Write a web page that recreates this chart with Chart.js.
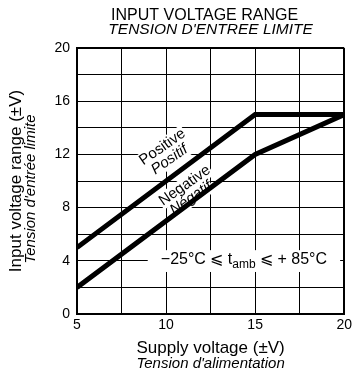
<!DOCTYPE html>
<html>
<head>
<meta charset="utf-8">
<script src="https://cdn.jsdelivr.net/npm/chart.js@4"></script>
<style>
  html, body { margin: 0; padding: 0; background: #fff; }
</style>
</head>
<body>
<canvas id="rangeChart" width="355" height="370"></canvas>
<script>
// input voltage range vs supply voltage

const FONT = '"Liberation Sans", Arial, sans-serif';

const posSupply = [5, 15, 20];
const posRange = [5, 15, 15];
const negSupply = [5, 15, 20];
const negRange = [2, 12, 15];

const titleLines = ["INPUT VOLTAGE RANGE", "TENSION D'ENTREE LIMITE"];
const xTitle = ["Supply voltage (\u00b1V)", "Tension d'alimentation"];
const yTitle = ["Input voltage range (\u00b1V)", "Tension d'entr\u00e9e limite"];

// labels written along the two curves
const noteText = ["Positive", "Positif", "Negative", "N\u00e9gatif"];
const noteX = [9.8, 10.2, 11.05, 11.4];
const noteY = [12.55, 11.6, 9.65, 8.7];
const noteItalic = [false, true, false, true];
const NOTE_ANGLE = -35 * Math.PI / 180;

function points(xs, ys) {
    return xs.map((v, i) => ({ x: v, y: ys[i] }));
}

function eachNote(chart, fn) {
    const { ctx, scales: { x, y } } = chart;
    noteText.forEach((s, i) => {
        ctx.save();
        ctx.translate(x.getPixelForValue(noteX[i]), y.getPixelForValue(noteY[i]));
        ctx.rotate(NOTE_ANGLE);
        ctx.font = (noteItalic[i] ? 'italic ' : '') + '15px ' + FONT;
        fn(ctx, s);
        ctx.restore();
    });
}

const textLayer = {
    id: 'textLayer',
    // white patches under the curve names hide the grid, lines go on top
    beforeDatasetsDraw(chart) {
        chart.ctx.save();
        chart.ctx.fillStyle = '#fff';
        eachNote(chart, (ctx, s) => {
            const w = ctx.measureText(s).width;
            ctx.fillRect(-w / 2 - 1, -8, w + 2, 16);
        });
        chart.ctx.restore();
    },
    afterDraw(chart) {
        const { ctx, chartArea: a, scales: { x, y } } = chart;
        const cx = (a.left + a.right) / 2;
        const cy = (a.top + a.bottom) / 2;
        ctx.save();
        ctx.fillStyle = '#000';
        ctx.textAlign = 'center';
        ctx.textBaseline = 'alphabetic';

        ctx.font = '16px ' + FONT;
        ctx.fillText(titleLines[0], cx - 6, 20);
        ctx.font = 'italic 15.5px ' + FONT;
        ctx.fillText(titleLines[1], cx, 34);

        ctx.font = '17px ' + FONT;
        ctx.fillText(xTitle[0], cx, 353);
        ctx.font = 'italic 15px ' + FONT;
        ctx.fillText(xTitle[1], cx, 368);

        ctx.save();
        ctx.translate(21, cy);
        ctx.rotate(-Math.PI / 2);
        ctx.font = '17px ' + FONT;
        ctx.fillText(yTitle[0], 0, 0);
        ctx.font = 'italic 15px ' + FONT;
        ctx.fillText(yTitle[1], -8, 14);
        ctx.restore();

        // curve names
        ctx.textBaseline = 'middle';
        eachNote(chart, (c, s) => c.fillText(s, 0, 0));

        // temperature range note on a white patch
        const bx0 = x.getPixelForValue(8.97), bx1 = x.getPixelForValue(19.77);
        const by0 = y.getPixelForValue(4.8), by1 = y.getPixelForValue(3.16);
        ctx.fillStyle = '#fff';
        ctx.fillRect(bx0, by0, bx1 - bx0, by1 - by0);
        ctx.fillStyle = '#000';
        const parts = [
            ['\u221225\u00b0C \u2a7d t', 16, 0],
            ['amb', 12, 4],
            [' \u2a7d + 85\u00b0C', 16, 0]
        ];
        let total = 0;
        parts.forEach(p => { ctx.font = p[1] + 'px ' + FONT; total += ctx.measureText(p[0]).width; });
        let px = (bx0 + bx1) / 2 - total / 2;
        const base = y.getPixelForValue(3.76);
        ctx.textAlign = 'left';
        ctx.textBaseline = 'alphabetic';
        parts.forEach(p => {
            ctx.font = p[1] + 'px ' + FONT;
            ctx.fillText(p[0], px, base + p[2]);
            px += ctx.measureText(p[0]).width;
        });
        ctx.restore();
    }
};

const edge = (max) => (c) => (c.tick && c.tick.value === max ? 2 : 1);

const lineStyle = {
    borderColor: '#000',
    backgroundColor: '#000',
    borderWidth: 5,
    pointRadius: 0,
    tension: 0,
    fill: false,
    borderJoinStyle: 'miter'
};

new Chart(document.getElementById('rangeChart'), {
    type: 'line',
    data: {
        datasets: [
            { label: 'Positive', data: points(posSupply, posRange), ...lineStyle },
            { label: 'Negative', data: points(negSupply, negRange), ...lineStyle }
        ]
    },
    options: {
        responsive: false,
        animation: false,
        layout: { padding: { top: 48, right: 10, left: 0, bottom: 0 } },
        plugins: {
            legend: { display: false },
            tooltip: { enabled: false },
            title: { display: false }
        },
        scales: {
            x: {
                type: 'linear',
                min: 5,
                max: 20,
                afterFit(s) { s.height = 56; },
                ticks: {
                    stepSize: 2.5,
                    autoSkip: false,
                    maxRotation: 0,
                    color: '#000',
                    padding: 3,
                    font: { family: FONT, size: 14 },
                    callback: (v) => (v % 5 === 0 ? v : '')
                },
                grid: { color: '#000', lineWidth: edge(20), drawTicks: false },
                border: { color: '#000', width: 2 }
            },
            y: {
                min: 0,
                max: 20,
                afterFit(s) { s.width = 77; },
                ticks: {
                    stepSize: 2,
                    autoSkip: false,
                    color: '#000',
                    padding: 7,
                    font: { family: FONT, size: 14 },
                    callback: (v) => (v % 4 === 0 ? v : '')
                },
                grid: { color: '#000', lineWidth: edge(20), drawTicks: false },
                border: { color: '#000', width: 2 }
            }
        }
    },
    plugins: [textLayer]
});
</script>
</body>
</html>
